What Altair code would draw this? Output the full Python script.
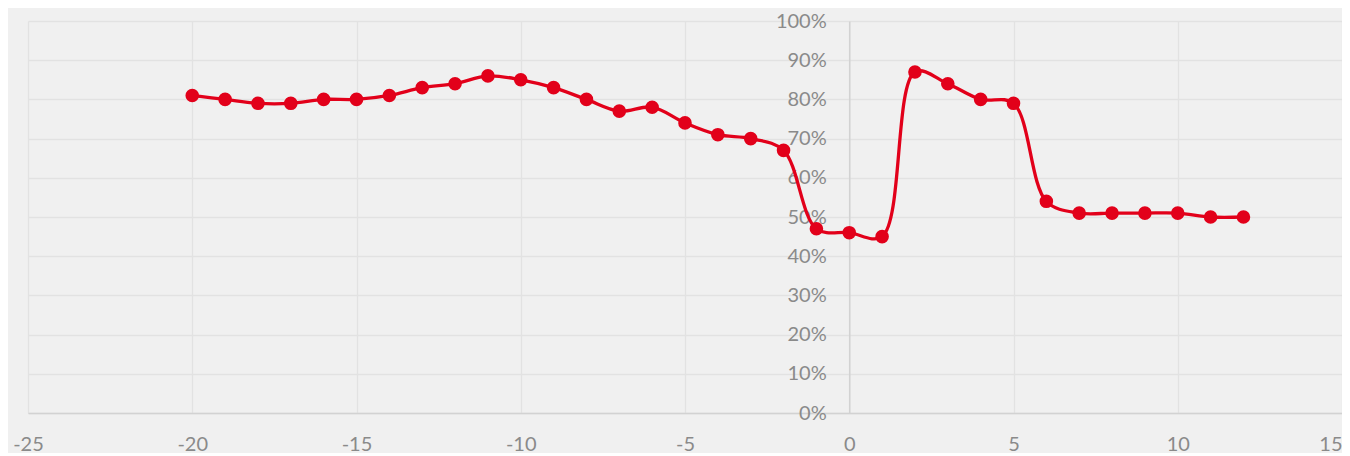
import altair as alt
import pandas as pd

x_vals = list(range(-20, 13))
y_pct = [81, 80, 79, 79, 80, 80, 81, 83, 84, 86,
         85, 83, 80, 77, 78, 74, 71, 70, 67, 47,
         46, 45, 87, 84, 80, 79, 54, 51, 51, 51,
         51, 50, 50]
x_ticks = [-25, -20, -15, -10, -5, 0, 5, 10, 15]
y_ticks = [0, 0.1, 0.2, 0.3, 0.4, 0.5, 0.6, 0.7, 0.8, 0.9, 1.0]

df = pd.DataFrame({"x": x_vals, "y": [v / 100 for v in y_pct]})

RED = "#E2001A"
LABEL = "#8a8a8a"
FONT = "Lato"
W, H = 1314, 392

x_enc = alt.X(
    "x:Q",
    scale=alt.Scale(domain=[-25, 15], nice=False, zero=False),
    axis=alt.Axis(
        values=x_ticks, title=None, grid=True, gridColor="#e2e2e2", gridWidth=1.3,
        domainColor="#d2d2d2", domainWidth=1.5, ticks=False,
        labelColor=LABEL, labelFont=FONT, labelFontSize=20, labelPadding=21,
        labelFlush=False, labelOverlap=False, labelExpr="'' + datum.value",
        labelAlign=alt.ExprRef(expr="datum.value >= 15 ? 'right' : 'center'"),
    ),
)
y_enc = alt.Y(
    "y:Q",
    scale=alt.Scale(domain=[0, 1], nice=False, zero=True),
    axis=alt.Axis(
        values=y_ticks, format="%", title=None, grid=True, gridColor="#e2e2e2",
        gridWidth=1.3, domainColor="#d2d2d2", domainWidth=1.5, ticks=False,
        offset=-(W * 25 / 40), labelColor=LABEL, labelFont=FONT, labelFontSize=20,
        labelPadding=23, labelOverlap=False, labelFlush=False,
    ),
)

base = alt.Chart(df).encode(x=x_enc, y=y_enc)
line = base.mark_line(interpolate="catmull-rom", color=RED, strokeWidth=3.3)
pts = base.mark_circle(size=185, color=RED, opacity=1)

chart = (
    alt.layer(line, pts)
    .properties(
        width=W, height=H,
        autosize=alt.AutoSizeParams(type="none"),
        padding={"left": 20, "top": 13, "right": 0, "bottom": 40},
        background="#f0f0f0",
    )
    .configure_view(stroke=None)
)

chart.save("out.html", embed_options={"renderer": "svg", "actions": False})
